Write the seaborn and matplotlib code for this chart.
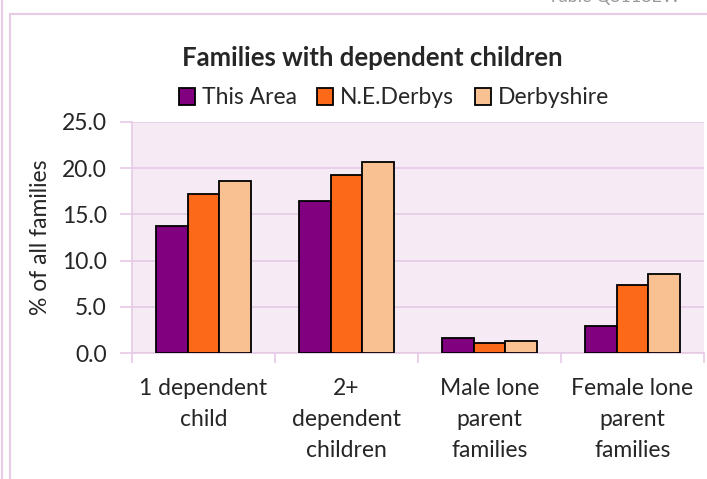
import pandas as pd
import seaborn as sns
import matplotlib.pyplot as plt
from matplotlib.lines import Line2D

# data
categories = ["1 dependent\nchild", "2+\ndependent\nchildren",
              "Male lone\nparent\nfamilies", "Female lone\nparent\nfamilies"]
areas = ["This Area", "N.E.Derbys", "Derbyshire"]
this_area = [13.7, 16.4, 1.6, 2.9]
ne_derbys = [17.2, 19.3, 1.1, 7.4]
derbyshire = [18.6, 20.7, 1.3, 8.6]

colours = ["#800080", "#FC6A19", "#F9C091"]
pink_line = "#E6CAE6"

df = pd.DataFrame({
    "category": categories * 3,
    "area": [a for a in areas for _ in categories],
    "value": this_area + ne_derbys + derbyshire,
})

sns.set_style("white")
plt.rcParams["font.family"] = ["Lato", "DejaVu Sans"]

fig = plt.figure(figsize=(7.07, 4.79), dpi=100)
ax = fig.add_axes([132 / 707, 1 - 353 / 479, 572 / 707, 231 / 479])
ax.set_facecolor("#F6EAF5")

sns.barplot(data=df, x="category", y="value", hue="area", order=categories,
            hue_order=areas, palette=colours, width=0.665, gap=0,
            edgecolor="black", linewidth=1.3, saturation=1, ax=ax, zorder=3)

ax.set_xlim(-0.5, 3.5)
ax.set_ylim(0, 25)
ax.set_yticks([0, 5, 10, 15, 20, 25])
ax.set_yticklabels([f"{v:.1f}" for v in [0, 5, 10, 15, 20, 25]], fontsize=16.5)
ax.yaxis.grid(True, color=pink_line, linewidth=1.2, zorder=0)
ax.set_axisbelow(True)
ax.tick_params(axis="y", length=9, width=1.2, color=pink_line, pad=9, left=True)

# category ticks sit between groups
ax.set_xticks([-0.5, 0.5, 1.5, 2.5, 3.5], minor=True)
ax.tick_params(axis="x", which="minor", length=7, width=1.2, color=pink_line, bottom=True)
ax.tick_params(axis="x", which="major", length=0, pad=18)
for lab in ax.get_xticklabels():
    lab.set_fontsize(16.5)
    lab.set_linespacing(1.6)
    lab.set_verticalalignment("top")

for side in ["top", "right"]:
    ax.spines[side].set_visible(False)
for side in ["left", "bottom"]:
    ax.spines[side].set_color(pink_line)
    ax.spines[side].set_linewidth(1.2)

ax.set_xlabel("")
ax.set_ylabel("% of all families", fontsize=16.5, labelpad=8)

ax.legend(loc="center", bbox_to_anchor=(394 / 707, 1 - 98 / 479),
          bbox_transform=fig.transFigure, ncol=3, frameon=False, fontsize=16.5,
          handlelength=0.7, handleheight=0.7, handletextpad=0.3,
          columnspacing=0.9, borderaxespad=0)

fig.text(372 / 707, 1 - 58 / 479, "Families with dependent children",
         ha="center", va="center", fontsize=18.5, fontweight="bold")
fig.text(680 / 707, 1 - 5 / 479, "Table QS118EW", ha="right", va="bottom",
         fontsize=13, color="#999999")

# cell borders around the chart
fig.add_artist(Line2D([10 / 707, 1], [1 - 14 / 479] * 2, color=pink_line, lw=1.5))
fig.add_artist(Line2D([10 / 707] * 2, [0, 1 - 14 / 479], color=pink_line, lw=1.5))
fig.add_artist(Line2D([2 / 707] * 2, [0, 1], color=pink_line, lw=1.5))

fig.savefig("out.png", dpi=100)
